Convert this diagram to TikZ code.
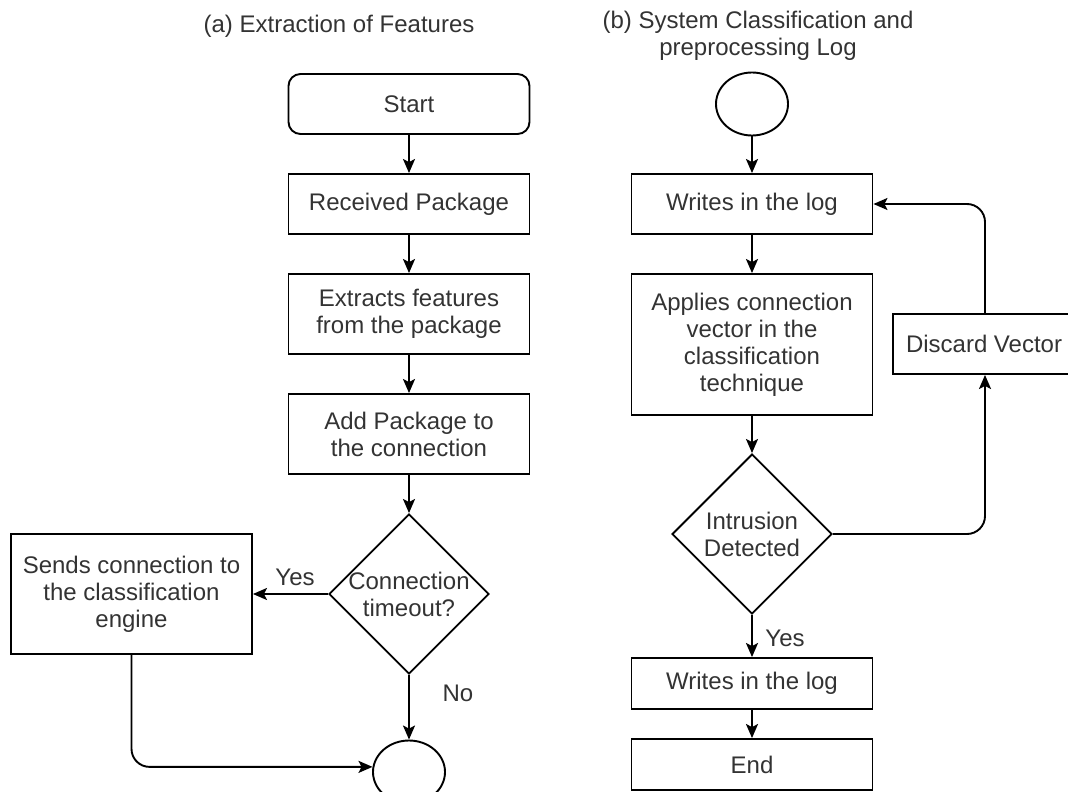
\documentclass[tikz,border=0pt]{standalone}
\usepackage{fontspec}
\setmainfont{Liberation Sans}
\usetikzlibrary{shapes.geometric,arrows.meta}

\begin{document}
\begin{tikzpicture}
  [x=1pt,y=-1pt,line width=1.9pt,
   every node/.style={font=\fontsize{24}{27}\selectfont,text=black!80,align=center},
   box/.style={draw=black,rectangle,minimum width=241pt,inner sep=0pt},
   roundbox/.style={box,rounded corners=12pt},
   decision/.style={draw=black,diamond,aspect=1,minimum width=160pt,minimum height=160pt,inner sep=0pt},
   circ/.style={draw=black,ellipse,minimum width=72pt,minimum height=63pt,inner sep=0pt},
   conn/.style={-{Stealth[length=14pt,width=12pt,inset=3pt]},rounded corners=18pt}]
  \path[use as bounding box,clip] (0,0) rectangle (1068,792);

  % (a) extraction of features
  \node (titleA) at (339,26) {(a) Extraction of Features};
  \node[roundbox,minimum height=60pt] (start) at (409,104) {Start};
  \node[box,minimum height=60pt] (recv) at (409,204) {Received Package};
  \node[box,minimum height=80pt] (extract) at (409,314) {Extracts features\\from the package};
  \node[box,minimum height=80pt] (addpkg) at (409,434) {Add Package to\\the connection};
  \node[decision,label={center:Connection\\timeout?}] (timeout) at (409,594) {};
  \node[box,minimum height=120pt] (sends) at (131.5,594) {Sends connection to\\the classification\\engine};
  \node[circ] (endA) at (409,772) {};
  \node (yesA) at (295,577) {Yes};
  \node (noA) at (458,693) {No};

  \foreach \from/\to in {start/recv,recv/extract,extract/addpkg,addpkg/timeout,
    timeout/sends,timeout/endA}
    \draw[conn] (\from) -- (\to);
  \draw[conn] (sends.south) |- (endA.172);

  % (b) system classification
  \node (titleB) at (758,36) {(b) System Classification and\\preprocessing Log};
  \node[circ] (begB) at (752,104) {};
  \node[box,minimum height=60pt] (writesA) at (752,204) {Writes in the log};
  \node[box,minimum height=141pt] (applies) at (752,344.5) {Applies connection\\vector in the\\classification\\technique};
  \node[decision,label={center:Intrusion\\Detected}] (intrusion) at (752,534) {};
  \node[box,minimum width=200pt,minimum height=60pt,
    label={[anchor=west,inner sep=0pt,xshift=13pt]west:Discard Vector}] (discard) at (993,344) {};
  \node[box,minimum height=51pt] (writesB) at (752,683.5) {Writes in the log};
  \node[box,minimum height=51pt] (endB) at (752,764.5) {End};
  \node (yesB) at (785,638) {Yes};

  \foreach \from/\to in {begB/writesA,writesA/applies,applies/intrusion,
    intrusion/writesB,writesB/endB}
    \draw[conn] (\from) -- (\to);
  \draw[conn] (intrusion.east) -| ([xshift=-8pt]discard.south);
  \draw[conn] ([xshift=-8pt]discard.north) |- (writesA.east);

\end{tikzpicture}
\end{document}
